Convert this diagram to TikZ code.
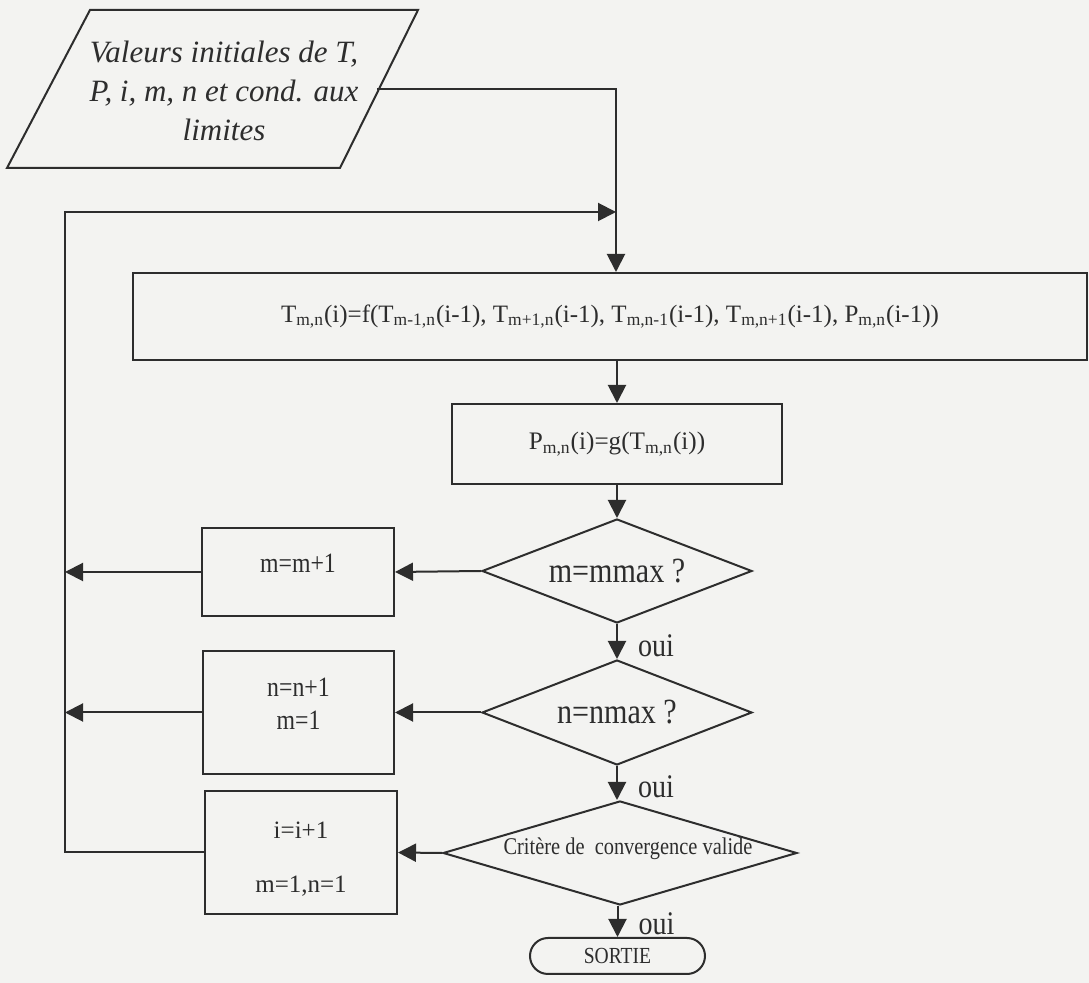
\documentclass[tikz,border=0pt]{standalone}
\usepackage{fontspec}
\setmainfont{Liberation Serif}
\newfontfamily\condfont[FakeStretch=0.85]{Liberation Serif}
\usetikzlibrary{arrows.meta,shapes.geometric}

\definecolor{ink}{RGB}{45,45,45}
\definecolor{paper}{RGB}{243,243,241}
\newcommand{\idx}[1]{\textsubscript{#1}}

\tikzset{
  flow/.style={draw=ink, line width=1pt, -{Triangle[length=9pt,width=9pt]}},
  box/.style={draw=ink, line width=1pt, rectangle, inner sep=0pt, text=ink},
  test/.style={draw=ink, line width=1pt, diamond, inner sep=0pt},
  lbl/.style={text=ink, inner sep=0pt},
  oui/.style={pos=1, anchor=base west, xshift=10pt, yshift=1pt, inner sep=0pt,
    text=ink, font=\condfont\fontsize{16.5}{18}\selectfont},
}

\begin{document}
\begin{tikzpicture}[x=0.5pt, y=-0.5pt]
  \useasboundingbox (0,0) rectangle (1089,983);
  \fill[paper] (0,0) rectangle (1089,983);
  %% input block
  \coordinate (pa) at (90,10);
  \coordinate (pb) at (418,10);
  \coordinate (pc) at (340,168);
  \coordinate (pd) at (7,168);
  \draw[ink, line width=1pt] (pa) -- (pb) -- (pc) -- (pd) -- cycle;
  \node[lbl, align=center, font=\itshape\fontsize{15.5}{19.5}\selectfont] (init) at (224,91)
    {Valeurs initiales de T,\\P, i, m, n et cond. aux\\limites};
  \coordinate (initE) at (377,89);
  \coordinate (turn) at (616,89);
  %% main column
  \node[box, minimum width=477pt, minimum height=43.5pt, font=\fontsize{12.5}{14}\selectfont] (tbox) at (610,316.5)
    {T\idx{m,n}(i)=f(T\idx{m-1,n}(i-1), T\idx{m+1,n}(i-1), T\idx{m,n-1}(i-1), T\idx{m,n+1}(i-1), P\idx{m,n}(i-1))};
  \node[box, minimum width=165pt, minimum height=40pt, font=\fontsize{12.6}{15}\selectfont] (pbox) at (617,444)
    {P\idx{m,n}(i)=g(T\idx{m,n}(i))};
  \node[test, minimum width=135pt, minimum height=52pt,
    label={[lbl, font=\condfont\fontsize{17.7}{20}\selectfont]center:m=mmax ?}] (d1) at (617,571) {};
  \node[test, minimum width=135pt, minimum height=52.5pt,
    label={[lbl, font=\condfont\fontsize{17.7}{20}\selectfont]center:n=nmax ?}] (d2) at (617,712.5) {};
  \node[test, minimum width=177pt, minimum height=52pt,
    label={[lbl, font=\condfont\fontsize{12}{14}\selectfont, xshift=4pt, yshift=2pt]center:Critère de\ \ convergence valide}] (d3) at (620,853) {};
  \node[box, minimum width=87.5pt, minimum height=18pt, rounded corners=9pt,
    font=\condfont\fontsize{11.5}{13}\selectfont] (sortie) at (617.5,956) {SORTIE};
  %% left column
  \node[box, minimum width=96pt, minimum height=44pt,
    label={[lbl, font=\condfont\fontsize{14}{16}\selectfont, yshift=4.5pt]center:m=m+1}] (mbox) at (298,572) {};
  \node[box, minimum width=95.5pt, minimum height=61.5pt,
    label={[lbl, align=center, font=\condfont\fontsize{14}{16.5}\selectfont, yshift=4.5pt]center:n=n+1\\m=1}] (nbox) at (298.5,712.5) {};
  \node[box, minimum width=96pt, minimum height=61.5pt,
    label={[lbl, align=center, font=\fontsize{12.5}{27}\selectfont, yshift=-3.5pt]center:i=i+1\\m=1,n=1}] (ibox) at (301,852.5) {};
  %% loop
  \coordinate (loopB) at (65,852.5);
  \coordinate (loopT) at (65,212);
  \coordinate (join) at (616,212);

  \draw[flow] (initE) -- (turn) -- (turn |- tbox.north);
  \draw[flow] (ibox.west) -- (loopB) -- (loopT) -- (join);
  \draw[flow] (pbox.north |- tbox.south) -- (pbox.north);
  \draw[flow] (pbox.south) -- (d1.north);
  \draw[flow] (d1.south) -- node[oui] {oui} (d2.north);
  \draw[flow] (d2.south) -- node[oui] {oui} (d2.south |- d3.north);
  \draw[flow] (sortie.north |- d3.south) -- node[oui] {oui} (sortie.north);
  \draw[flow] (d1.west) -- (mbox.east);
  \draw[flow] (d2.west) -- (nbox.east);
  \draw[flow] (d3.west) -- (ibox.east);
  \draw[flow] (mbox.west) -- (mbox.west -| loopT);
  \draw[flow] (nbox.west) -- (nbox.west -| loopT);
\end{tikzpicture}
\end{document}
